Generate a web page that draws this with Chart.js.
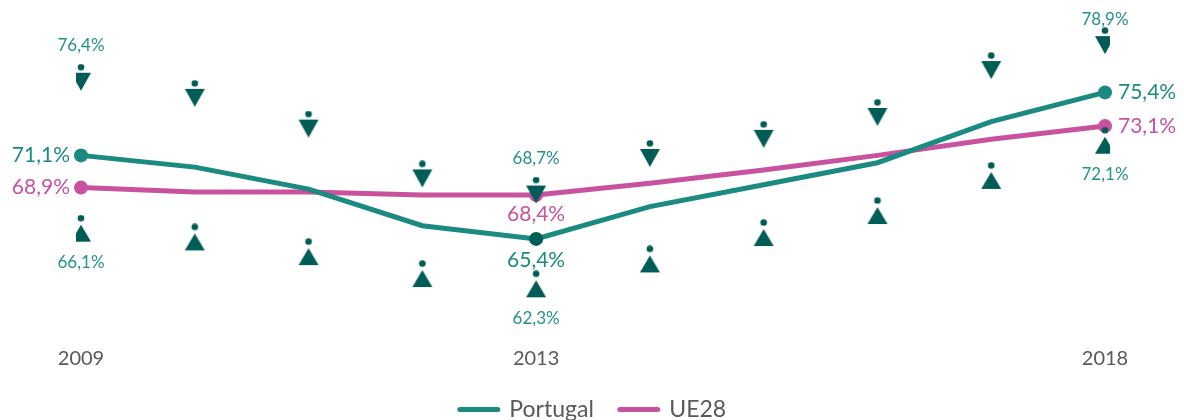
<!DOCTYPE html>
<html>
<head>
<meta charset="utf-8">
<script src="https://cdn.jsdelivr.net/npm/chart.js@4/dist/chart.umd.min.js"></script>
<style>
  html, body { margin: 0; padding: 0; background: #fff; overflow: hidden; }
  #wrap { width: 1184px; height: 431px; position: relative; }
</style>
</head>
<body>
<div id="wrap"><canvas id="grafico"></canvas></div>
<script>
const anos = ["2009", "2010", "2011", "2012", "2013", "2014", "2015", "2016", "2017", "2018"];
const anosVisiveis = ["2009", "2013", "2018"];
const portugal = [71.1, 70.3, 68.8, 66.3, 65.4, 67.6, 69.1, 70.6, 73.4, 75.4];
const ue28 = [68.9, 68.6, 68.6, 68.4, 68.4, 69.2, 70.1, 71.1, 72.2, 73.1];
const homens = [76.4, 75.3, 73.2, 69.8, 68.7, 71.2, 72.5, 74.0, 77.2, 78.9];
const mulheres = [66.1, 65.5, 64.5, 63.0, 62.3, 64.0, 65.8, 67.3, 69.7, 72.1];
const comRotulo = [0, 4, 9];

const TEAL = "#1b8a80";
const TEAL_ESCURO = "#005c56";
const TEAL_TXT = "#23928a";
const ROSA = "#c8529e";
const CINZA = "#595959";
const FONTE = "Lato, 'Open Sans', sans-serif";

const fmt = (v) => v.toFixed(1).replace(".", ",") + "%";

// icones: ponto + triangulo (homem para baixo, mulher para cima)
const icone = (paraBaixo) => {
  const c = document.createElement("canvas");
  c.width = 22;
  c.height = 28;
  const g = c.getContext("2d");
  g.fillStyle = TEAL_ESCURO;
  g.beginPath();
  g.arc(11, 3.5, 3.3, 0, Math.PI * 2);
  g.fill();
  g.beginPath();
  if (paraBaixo) {
    g.moveTo(1, 9);
    g.lineTo(21, 9);
    g.lineTo(11, 27);
  } else {
    g.moveTo(11, 10);
    g.lineTo(21, 27);
    g.lineTo(1, 27);
  }
  g.closePath();
  g.fill();
  return c;
};

const rotulos = {
  id: "rotulos",
  afterDatasetsDraw(chart) {
    const ctx = chart.ctx;
    const meta = (i) => chart.getDatasetMeta(i).data;
    ctx.save();
    ctx.textBaseline = "middle";

    // homens / mulheres
    ctx.font = "17px " + FONTE;
    ctx.fillStyle = TEAL_TXT;
    ctx.textAlign = "center";
    comRotulo.forEach((i) => {
      const h = meta(0)[i];
      ctx.fillText(fmt(homens[i]), h.x, Math.max(h.y - 32, 20));
      const m = meta(1)[i];
      ctx.fillText(fmt(mulheres[i]), m.x, m.y + 34);
    });

    // linhas principais
    ctx.font = "21px " + FONTE;
    const pt = meta(2), ue = meta(3);
    ctx.fillStyle = TEAL;
    ctx.textAlign = "right";
    ctx.fillText(fmt(portugal[0]), pt[0].x - 11, pt[0].y);
    ctx.fillStyle = ROSA;
    ctx.fillText(fmt(ue28[0]), ue[0].x - 11, ue[0].y);

    ctx.textAlign = "center";
    ctx.fillStyle = TEAL;
    ctx.fillText(fmt(portugal[4]), pt[4].x, pt[4].y + 21);
    ctx.fillStyle = ROSA;
    ctx.fillText(fmt(ue28[4]), ue[4].x, ue[4].y + 19);

    ctx.textAlign = "left";
    ctx.fillStyle = TEAL;
    ctx.fillText(fmt(portugal[9]), pt[9].x + 13, pt[9].y);
    ctx.fillStyle = ROSA;
    ctx.fillText(fmt(ue28[9]), ue[9].x + 13, ue[9].y);
    ctx.restore();
  },
};

const raio = (c) => (comRotulo.includes(c.dataIndex) ? 7 : 0);

new Chart(document.getElementById("grafico"), {
  type: "line",
  data: {
    labels: anos,
    datasets: [
      {
        label: "Homens",
        data: homens,
        showLine: false,
        pointStyle: icone(true),
        order: 0,
      },
      {
        label: "Mulheres",
        data: mulheres,
        showLine: false,
        pointStyle: icone(false),
        order: 0,
      },
      {
        label: "Portugal",
        data: portugal,
        borderColor: TEAL,
        backgroundColor: TEAL,
        borderWidth: 5,
        borderCapStyle: "round",
        pointRadius: raio,
        pointBackgroundColor: (c) => (c.dataIndex === 4 ? TEAL_ESCURO : TEAL),
        pointBorderWidth: 0,
        order: 1,
      },
      {
        label: "UE28",
        data: ue28,
        borderColor: ROSA,
        backgroundColor: ROSA,
        borderWidth: 5,
        borderCapStyle: "round",
        pointRadius: raio,
        pointBackgroundColor: ROSA,
        pointBorderWidth: 0,
        order: 1,
      },
    ],
  },
  options: {
    responsive: true,
    maintainAspectRatio: false,
    animation: false,
    events: [],
    layout: { padding: { left: 81, right: 79, top: 25, bottom: 0 } },
    scales: {
      x: {
        grid: { display: false },
        border: { display: false },
        afterFit: (eixo) => {
          eixo.height = 54;
        },
        ticks: {
          autoSkip: false,
          maxRotation: 0,
          padding: 21,
          color: CINZA,
          font: { family: FONTE, size: 20 },
          callback: function (v) {
            const a = this.getLabelForValue(v);
            return anosVisiveis.includes(a) ? a : "";
          },
        },
      },
      y: {
        display: false,
        min: 60,
        max: 80,
      },
    },
    plugins: {
      tooltip: { enabled: false },
      legend: {
        position: "bottom",
        labels: {
          usePointStyle: true,
          pointStyle: "line",
          pointStyleWidth: 38,
          padding: 26,
          color: CINZA,
          font: { family: FONTE, size: 23 },
          generateLabels: (chart) =>
            Chart.defaults.plugins.legend.labels
              .generateLabels(chart)
              .filter((it) => it.text === "Portugal" || it.text === "UE28")
              .map((it) => {
                const ds = chart.data.datasets[it.datasetIndex];
                return { ...it, pointStyle: "line", lineWidth: 5, strokeStyle: ds.borderColor, lineCap: "round" };
              }),
        },
      },
    },
  },
  plugins: [rotulos],
});
</script>
</body>
</html>
